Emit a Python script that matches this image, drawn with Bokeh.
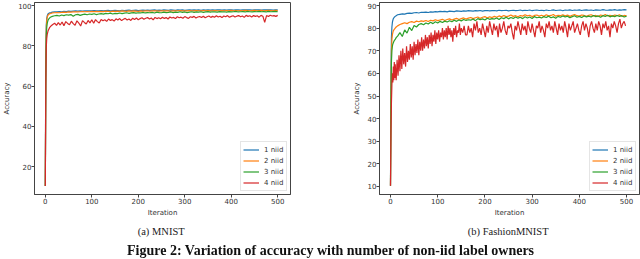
from bokeh.plotting import figure
from bokeh.layouts import column, row
from bokeh.models import Div, Legend, LegendItem, Title
from bokeh.embed import file_html
from bokeh.resources import INLINE

# ---------------- data ----------------
ITER_SMOOTH = [0, 1, 2, 3, 4, 5, 6, 8, 10, 12, 15] + list(range(20, 501, 5))
ITER_RED_M = list(range(0, 11)) + list(range(12, 501, 4))
ITER_RED_F = list(range(0, 11)) + list(range(12, 151, 2)) + list(range(153, 501, 3))

SERIES_NAMES = ["1 niid", "2 niid", "3 niid", "4 niid"]
COLORS = ["#1f77b4", "#ff7f0e", "#2ca02c", "#d62728"]
X_TICKS = [0, 100, 200, 300, 400, 500]
Y_TICKS_M = [20, 40, 60, 80, 100]
Y_TICKS_F = [10, 20, 30, 40, 50, 60, 70, 80, 90]

# MNIST
m1 = [10.3, 75, 90, 93.5, 94.8, 95.5, 95.9, 96.2, 96.4, 96.5, 96.7,
      96.8, 96.9, 97.0, 96.9, 97.1, 97.0, 97.2, 97.1, 97.2, 97.3,
      97.2, 97.3, 97.2, 97.4, 97.3, 97.4, 97.3, 97.5, 97.4, 97.3,
      97.5, 97.4, 97.5, 97.6, 97.4, 97.5, 97.6, 97.5, 97.4, 97.6,
      97.5, 97.6, 97.7, 97.5, 97.6, 97.7, 97.5, 97.6, 97.7, 97.6,
      97.7, 97.6, 97.7, 97.8, 97.6, 97.7, 97.6, 97.8, 97.7, 97.6,
      97.8, 97.7, 97.6, 97.8, 97.7, 97.8, 97.6, 97.7, 97.8, 97.7,
      97.8, 97.7, 97.8, 97.6, 97.8, 97.7, 97.9, 97.7, 97.8, 97.7,
      97.8, 97.9, 97.7, 97.8, 97.7, 97.9, 97.8, 97.7, 97.9, 97.8,
      97.7, 97.9, 97.8, 97.8, 97.9, 97.7, 97.8, 97.9, 97.8, 97.7,
      97.9, 97.8, 97.8, 97.9, 97.7, 97.8, 97.8]
m2 = [10.3, 70, 88, 92.5, 94, 94.8, 95.3, 95.7, 96.0, 96.1, 96.3,
      96.4, 96.5, 96.4, 96.6, 96.7, 96.6, 96.8, 96.7, 96.8, 96.9,
      96.8, 96.9, 97.0, 96.9, 97.0, 96.9, 97.1, 97.0, 97.1, 97.0,
      97.1, 97.0, 97.2, 97.1, 97.0, 97.2, 97.1, 97.2, 97.1, 97.3,
      97.2, 97.1, 97.3, 97.2, 97.3, 97.2, 97.1, 97.3, 97.2, 97.3,
      97.4, 97.2, 97.3, 97.4, 97.3, 97.2, 97.4, 97.3, 97.4, 97.3,
      97.2, 97.4, 97.3, 97.4, 97.5, 97.3, 97.4, 97.3, 97.5, 97.4,
      97.3, 97.5, 97.4, 97.3, 97.5, 97.4, 97.5, 97.3, 97.4, 97.5,
      97.4, 97.3, 97.5, 97.4, 97.5, 97.4, 97.6, 97.4, 97.5, 97.4,
      97.5, 97.4, 97.6, 97.5, 97.4, 97.5, 97.6, 97.4, 97.5, 97.6,
      97.4, 97.5, 97.6, 97.5, 97.4, 97.6, 97.5]
m3 = [10.3, 62, 84, 89, 91, 92, 92.8, 93.5, 94.0, 94.3, 94.6,
      94.9, 95.1, 94.8, 95.3, 95.0, 95.4, 95.2, 95.5, 94.7, 95.4,
      95.6, 95.1, 95.5, 95.7, 95.4, 95.8, 95.6, 95.9, 95.5, 95.8,
      96.0, 95.7, 96.1, 95.9, 96.2, 95.8, 96.1, 96.0, 96.3, 96.0,
      96.2, 96.4, 96.1, 96.3, 96.5, 96.2, 96.4, 96.3, 96.6, 96.3,
      96.5, 96.4, 96.6, 96.3, 96.7, 96.5, 96.4, 96.7, 96.5, 96.6,
      96.8, 96.5, 96.7, 96.6, 96.9, 96.6, 96.8, 96.5, 96.7, 96.9,
      96.6, 96.8, 96.7, 96.9, 96.6, 96.8, 97.0, 96.7, 96.9, 96.8,
      96.7, 97.0, 96.8, 96.9, 96.7, 97.0, 96.8, 96.9, 97.1, 96.8,
      96.9, 97.0, 96.8, 97.1, 96.9, 96.8, 97.0, 96.9, 97.1, 96.9,
      97.0, 96.8, 97.1, 96.9, 97.0, 97.1, 96.9]
m4 = [10.3, 60, 79, 83.5, 85.5, 86.5, 87.5, 88, 88.5, 89, 89.3,
      89.8, 90.6, 91.2, 90.1, 91.5, 90.3, 91.8, 90.0, 92.0, 91.1,
      90.4, 92.2, 91.0, 90.2, 92.4, 91.3, 89.8, 92.5, 91.6, 90.8,
      92.6, 91.4, 92.9, 91.2, 93.0, 92.0, 91.3, 93.1, 92.4, 92.9,
      92.1, 93.3, 92.6, 93.0, 92.3, 93.4, 92.8, 93.5, 92.5, 93.2,
      93.6, 92.8, 93.3, 92.6, 93.7, 93.1, 93.8, 92.9, 93.5, 93.9,
      93.2, 93.7, 94.0, 93.3, 93.8, 92.9, 94.1, 93.5, 93.9, 93.4,
      94.2, 93.6, 94.0, 93.3, 94.3, 93.8, 94.1, 93.5, 94.4, 93.9,
      94.2, 93.7, 94.5, 94.0, 93.6, 94.4, 94.1, 94.6, 93.8, 94.3,
      94.5, 94.0, 94.7, 93.9, 94.4, 94.8, 94.1, 94.6, 94.2, 94.9,
      94.3, 94.7, 94.0, 94.8, 94.4, 95.0, 94.2, 94.6, 94.9, 94.3,
      94.7, 95.0, 94.4, 94.8, 94.1, 95.1, 94.6, 94.9, 94.3, 95.0,
      94.6, 94.9, 94.2, 95.1, 94.7, 91.6, 95.0, 94.5, 95.2, 94.8,
      95.0, 94.6, 95.1]

# FashionMNIST
f1 = [10.3, 60, 76, 80.5, 82.5, 83.5, 84.2, 84.8, 85.2, 85.5, 85.9,
      86.1, 86.3, 86.2, 86.5, 86.6, 86.5, 86.8, 86.9, 86.7, 87.0,
      87.0, 87.1, 86.9, 87.2, 87.1, 87.3, 87.2, 87.4, 87.3, 87.4,
      87.2, 87.5, 87.4, 87.3, 87.6, 87.5, 87.4, 87.6, 87.5, 87.7,
      87.6, 87.5, 87.7, 87.6, 87.8, 87.5, 87.7, 87.8, 87.6, 87.7,
      87.8, 87.6, 87.9, 87.7, 87.8, 87.9, 87.6, 87.8, 87.9, 87.7,
      87.8, 88.0, 87.7, 87.9, 87.8, 88.0, 87.7, 87.9, 88.0, 87.8,
      87.9, 87.7, 88.0, 87.8, 87.9, 88.1, 87.8, 87.9, 88.0, 87.7,
      88.0, 87.9, 88.1, 87.8, 88.0, 87.9, 88.1, 87.8, 88.0, 88.1,
      87.9, 88.0, 87.8, 88.1, 88.0, 87.9, 88.2, 88.0, 87.9, 88.1,
      88.0, 88.2, 87.9, 88.1, 88.0, 88.2, 88.1]
f2 = [10.3, 50, 70, 75, 77, 78, 78.8, 79.5, 80, 80.5, 81,
      81.6, 82.0, 82.4, 82.0, 82.6, 82.9, 82.5, 83.1, 82.8, 83.2,
      83.0, 83.4, 82.9, 83.5, 83.2, 83.7, 83.3, 83.6, 83.9, 83.4,
      83.8, 84.1, 83.6, 84.0, 84.3, 83.8, 84.2, 84.5, 84.0, 84.4,
      84.7, 84.2, 84.6, 84.9, 84.3, 84.8, 85.1, 84.5, 85.0, 84.7,
      85.2, 84.8, 85.4, 85.0, 85.6, 85.1, 85.3, 85.8, 85.2, 85.5,
      85.0, 85.6, 85.3, 85.9, 85.4, 85.7, 85.1, 85.6, 85.8, 85.3,
      85.7, 85.2, 85.9, 85.4, 85.6, 86.0, 85.3, 85.7, 85.5, 85.9,
      85.4, 85.8, 85.2, 85.7, 86.0, 85.5, 85.3, 85.8, 85.6, 85.2,
      85.7, 85.9, 85.4, 85.6, 85.1, 85.8, 85.5, 86.0, 85.4, 85.7,
      85.3, 85.8, 85.5, 85.9, 85.2, 85.6, 85.4]
f3 = [10.3, 45, 65, 70, 72, 73, 73.5, 74.5, 75, 75.8, 76.5,
      78.0, 76.3, 79.2, 77.8, 80.4, 78.9, 81.2, 80.5, 81.6, 82.0,
      81.5, 82.3, 81.8, 82.6, 82.0, 82.8, 82.3, 83.0, 82.5, 83.1,
      82.7, 83.3, 82.8, 83.5, 83.0, 83.6, 83.2, 83.8, 83.4, 83.7,
      83.5, 84.0, 83.3, 84.2, 83.7, 84.1, 83.6, 84.4, 83.9, 84.2,
      84.0, 84.5, 83.8, 84.6, 84.2, 84.8, 84.1, 84.7, 84.3, 84.9,
      84.4, 84.8, 84.2, 85.0, 84.5, 84.9, 84.3, 85.1, 84.6, 84.8,
      84.5, 85.1, 84.7, 85.3, 84.6, 85.0, 84.4, 85.2, 84.8, 85.4,
      84.9, 85.3, 84.6, 85.1, 85.5, 84.8, 85.2, 84.7, 85.4, 85.0,
      85.3, 84.9, 85.6, 85.1, 85.4, 84.8, 85.5, 85.2, 85.7, 85.0,
      85.4, 85.1, 85.6, 85.2, 85.5, 84.9, 85.3]
f4 = [10.3, 35, 47, 55, 60, 56, 63, 57, 65, 58, 64,
      57, 66, 59, 68, 61, 70, 62, 71, 64, 69,
      63, 72, 65, 70, 66, 73, 67, 72, 66, 74,
      68, 73, 69, 75, 68, 74, 70, 76, 70, 75,
      71, 77, 72, 76, 71, 77, 73, 78, 72, 77,
      74, 79, 73, 78, 75, 79, 74, 78, 76, 80,
      75, 79, 76, 80, 75, 81, 77, 80, 76, 79,
      74, 80, 77, 81, 76, 79, 78, 82, 77, 80,
      78, 81, 77,
      77, 81, 78, 80, 76, 82, 79, 83, 78, 80,
      77, 82, 79, 76, 81, 78, 83, 80, 77, 82,
      79, 81, 76, 82, 78, 80, 83, 79, 77, 81,
      80, 82, 78, 75, 81, 79, 83, 80, 77, 82,
      79, 81, 77, 83, 80, 78, 82, 79, 76, 81,
      80, 83, 78, 81, 79, 76, 82, 80, 83, 79,
      81, 78, 83, 80, 77, 82, 79, 81, 78, 83,
      80, 76, 82, 79, 81, 83, 78, 80, 82, 79,
      77, 81, 83, 79, 82, 80, 76, 81, 83, 80,
      78, 82, 79, 83, 81, 77, 82, 80, 83, 79,
      81, 76, 82, 80, 83, 81, 78, 82, 84, 80,
      82, 83, 81]

AXIS_COLOR = "#444444"
TEXT_COLOR = "#333333"


def make_panel(xs_list, ys_list, y_range, y_ticks, caption, width, border_left, border_right):
    p = figure(width=width, height=244, x_range=(-23.3, 527.5), y_range=y_range,
               output_backend="svg", toolbar_location=None,
               min_border_left=border_left, min_border_right=border_right,
               min_border_top=2, min_border_bottom=50,
               background_fill_color="white", border_fill_color="white")
    p.xgrid.visible = False
    p.ygrid.visible = False
    p.outline_line_color = AXIS_COLOR
    p.outline_line_width = 1
    for ax in (p.xaxis[0], p.yaxis[0]):
        ax.axis_line_color = AXIS_COLOR
        ax.major_tick_line_color = AXIS_COLOR
        ax.major_tick_out = 3
        ax.major_tick_in = 0
        ax.minor_tick_line_color = None
        ax.major_label_text_font = "DejaVu Sans"
        ax.major_label_text_font_size = "7px"
        ax.major_label_text_color = TEXT_COLOR
        ax.major_label_standoff = 0
        ax.axis_label_text_font = "DejaVu Sans"
        ax.axis_label_text_font_size = "7px"
        ax.axis_label_text_font_style = "normal"
        ax.axis_label_text_color = TEXT_COLOR
    p.xaxis.axis_label_standoff = 2
    p.yaxis.axis_label_standoff = 4
    p.xaxis.ticker = X_TICKS
    p.yaxis.ticker = y_ticks
    p.xaxis.axis_label = "Iteration"
    p.yaxis.axis_label = "Accuracy"

    items = []
    for xs, ys, name, color in zip(xs_list, ys_list, SERIES_NAMES, COLORS):
        r = p.line(xs, ys, line_color=color, line_width=1.2)
        items.append(LegendItem(label=name, renderers=[r]))
    legend = Legend(items=items, location="bottom_right",
                    label_text_font="DejaVu Sans", label_text_font_size="7px",
                    label_text_color=TEXT_COLOR,
                    glyph_width=16, glyph_height=11, label_height=11,
                    label_standoff=5, spacing=0, padding=2, margin=3,
                    border_line_color="#cccccc", border_line_width=1,
                    background_fill_color="white", background_fill_alpha=0.85)
    p.add_layout(legend, "center")

    t = Title(text=caption, align="center", text_font="Liberation Serif",
              text_font_size="10.5px", text_font_style="normal",
              text_color="#222222", standoff=8)
    p.add_layout(t, "below")
    return p


p1 = make_panel([ITER_SMOOTH, ITER_SMOOTH, ITER_SMOOTH, ITER_RED_M],
                [m1, m2, m3, m4], (6.1, 101.5), Y_TICKS_M,
                "(a)  MNIST", 300, 30, 10)
p2 = make_panel([ITER_SMOOTH, ITER_SMOOTH, ITER_SMOOTH, ITER_RED_F],
                [f1, f2, f3, f4], (6.46, 91.33), Y_TICKS_F,
                "(b)  FashionMNIST", 340, 79, 1)

cap = Div(text=('<div style="position:fixed; left:127px; top:243px; '
                'font-family:\'Liberation Serif\', serif; font-weight:bold; '
                'font-size:14px; line-height:16px; color:#111; white-space:nowrap;">'
                'Figure 2: Variation of accuracy with number of non-iid label owners</div>'),
          width=640, height=1)

layout = column(row(p1, p2), cap)
open("out.html", "w").write(file_html(layout, INLINE))
